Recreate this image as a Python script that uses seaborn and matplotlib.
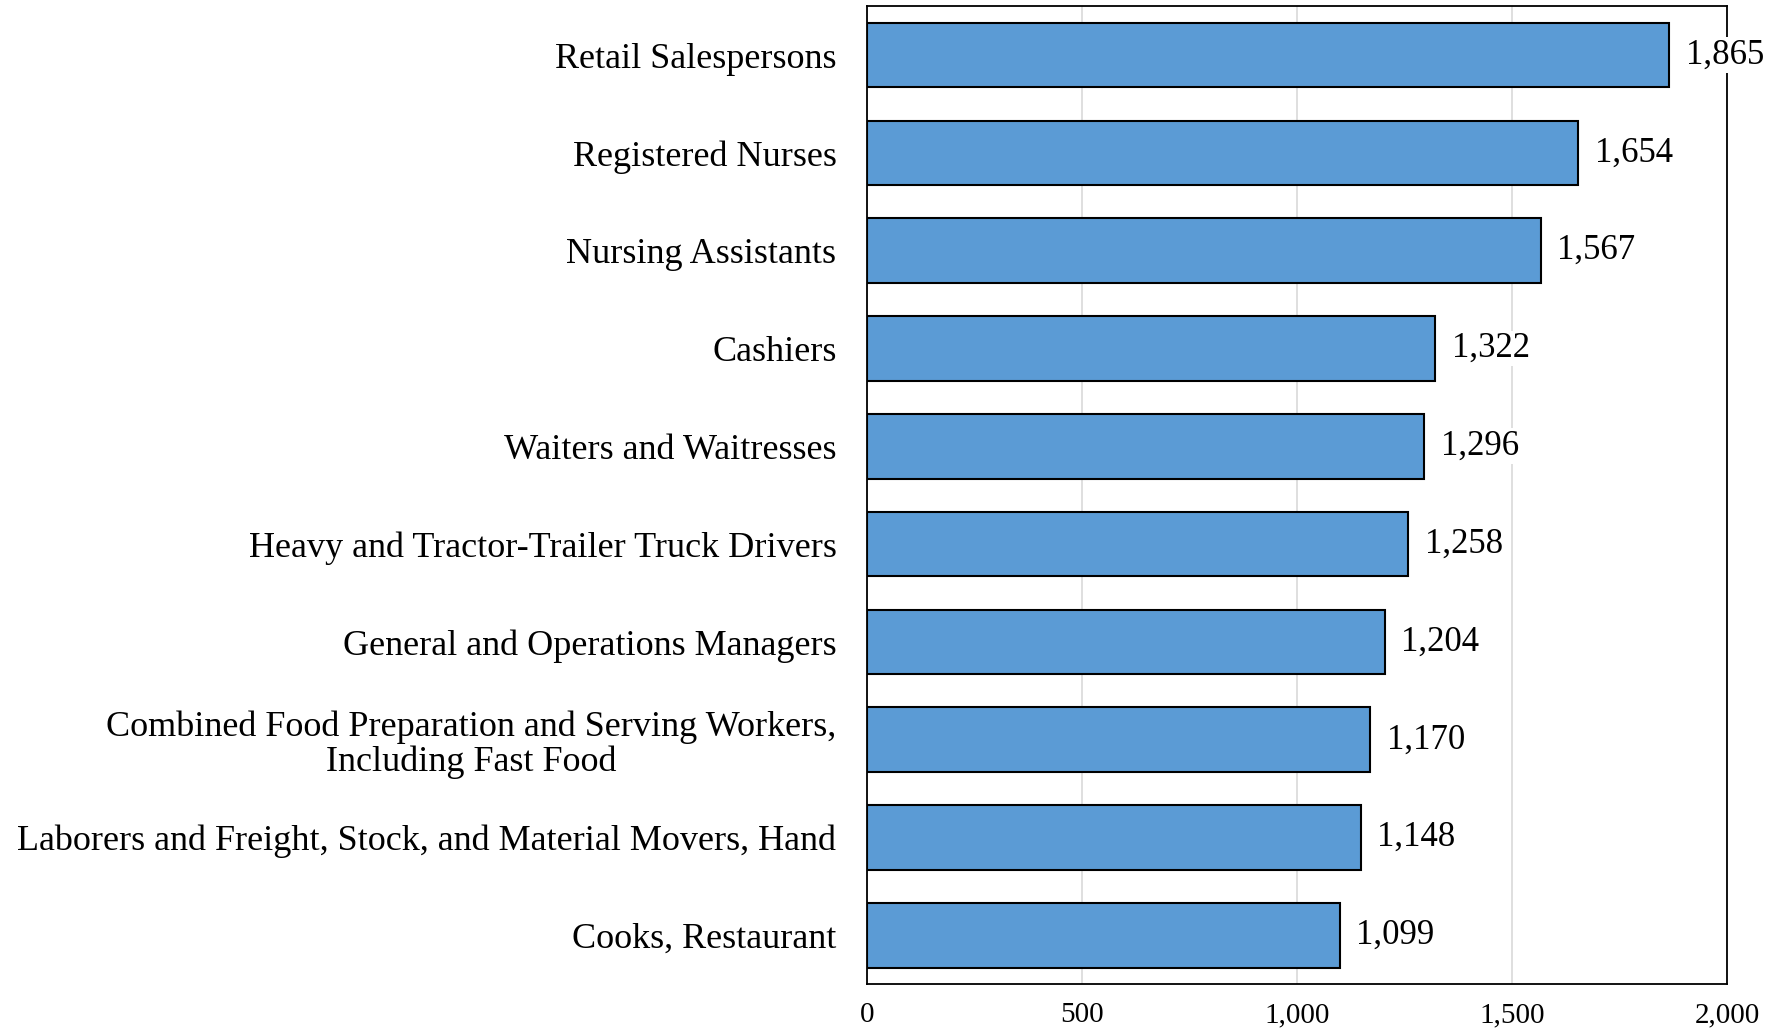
import matplotlib
matplotlib.use("Agg")
import matplotlib.pyplot as plt
import seaborn as sns
import pandas as pd
from matplotlib.ticker import FuncFormatter

# --- data ---
occupations = [
    "Retail Salespersons",
    "Registered Nurses",
    "Nursing Assistants",
    "Cashiers",
    "Waiters and Waitresses",
    "Heavy and Tractor-Trailer Truck Drivers",
    "General and Operations Managers",
    "Combined Food Preparation and Serving Workers,\nIncluding Fast Food",
    "Laborers and Freight, Stock, and Material Movers, Hand",
    "Cooks, Restaurant",
]
employment = [1865, 1654, 1567, 1322, 1296, 1258, 1204, 1170, 1148, 1099]
x_ticks = [0, 500, 1000, 1500, 2000]

df = pd.DataFrame({"occupation": occupations, "value": employment})

sns.set_style("white")
plt.rcParams["font.family"] = ["Liberation Serif", "DejaVu Serif"]
plt.rcParams["text.color"] = "black"
plt.rcParams["xtick.color"] = "black"
plt.rcParams["ytick.color"] = "black"

fig = plt.figure(figsize=(17.73, 10.35), dpi=100)
ax = fig.add_axes([0.489, 0.049, 0.485, 0.945])

sns.barplot(data=df, x="value", y="occupation", orient="h", color="#5B9BD5",
            saturation=1, edgecolor="black", linewidth=1.5, width=0.66, ax=ax)

ax.set_xlim(0, 2000)
ax.set_ylim(len(occupations) - 0.5, -0.5)
ax.set_xticks(x_ticks)
ax.xaxis.set_major_formatter(FuncFormatter(lambda v, p: f"{int(v):,}"))
ax.grid(axis="x", color="#D9D9D9", linewidth=1.2)
ax.set_axisbelow(True)
ax.set_xlabel("")
ax.set_ylabel("")

for side in ["left", "right", "top", "bottom"]:
    ax.spines[side].set_visible(True)
    ax.spines[side].set_color("black")
    ax.spines[side].set_linewidth(1.3)

ax.tick_params(axis="both", length=0)
ax.tick_params(axis="y", pad=22, labelsize=26)
ax.tick_params(axis="x", pad=13, labelsize=21)
for lbl in ax.get_yticklabels():
    lbl.set_multialignment("center")
    lbl.set_linespacing(1.05)

for i, v in enumerate(employment):
    ax.annotate(f"{v:,}", xy=(v, i), xytext=(12, 0), textcoords="offset points",
                va="center", ha="left", fontsize=25,
                bbox=dict(facecolor="white", edgecolor="none", pad=1),
                annotation_clip=False, zorder=5)

fig.savefig("out.png", dpi=100)
